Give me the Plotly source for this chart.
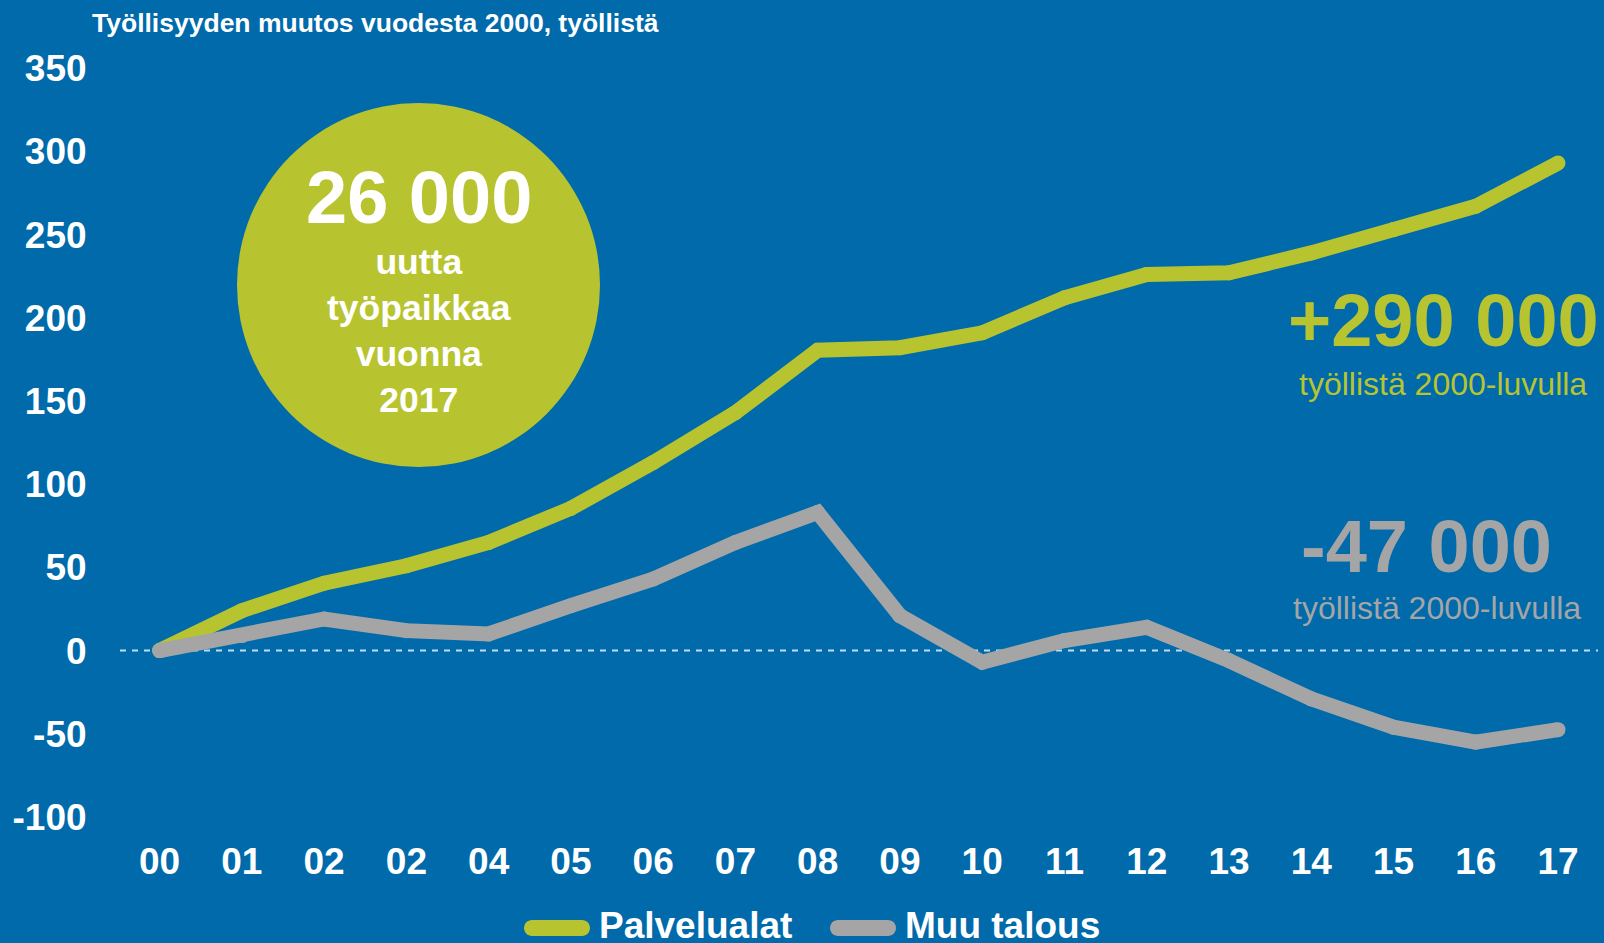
import plotly.graph_objects as go

years = ["00", "01", "02", "02", "04", "05", "06", "07", "08", "09",
         "10", "11", "12", "13", "14", "15", "16", "17"]
palvelualat = [0, 24, 40.5, 51, 65, 85.5, 113, 143, 180.5, 182, 191, 212,
               226, 227, 239, 253, 267, 293]
muu_talous = [0, 9, 19, 12, 10, 27, 43, 65, 83, 21, -7, 6, 14, -6, -29,
              -46, -55, -47.5]
yticks = [350, 300, 250, 200, 150, 100, 50, 0, -50, -100]

BG = "#006AAB"
GREEN = "#B8C42F"
GRAY = "#A5A5A5"
FONT = "Liberation Sans, Arial, sans-serif"

xs = list(range(len(years)))

fig = go.Figure()
fig.add_trace(go.Scatter(x=xs, y=palvelualat, mode="lines+markers", name="Palvelualat",
                         line=dict(color=GREEN, width=15),
                         marker=dict(color=GREEN, size=15, line=dict(width=0)),
                         showlegend=False, hoverinfo="skip"))
fig.add_trace(go.Scatter(x=xs, y=muu_talous, mode="lines+markers", name="Muu talous",
                         line=dict(color=GRAY, width=15),
                         marker=dict(color=GRAY, size=15, line=dict(width=0)),
                         showlegend=False, hoverinfo="skip"))

L, R, T, B = 120, 6, 40, 118
W, H = 1604, 943
pw, ph = W - L - R, H - T - B

def px(x):
    return (x - L) / pw

def py(y):
    return (H - B - y) / ph

shapes = []
shapes.append(dict(type="line", xref="paper", yref="y", x0=0, x1=1, y0=0, y1=0,
                   line=dict(color="#BFDDF0", width=2, dash="6px,6px"), layer="below"))
shapes.append(dict(type="circle", xref="paper", yref="paper",
                   x0=px(237), x1=px(600), y0=py(467), y1=py(103),
                   fillcolor=GREEN, line=dict(width=0), layer="below"))

def stadium(cx, cy, color):
    p = ("M -25,-8 L 25,-8 C 29.4,-8 33,-4.4 33,0 C 33,4.4 29.4,8 25,8 "
         "L -25,8 C -29.4,8 -33,4.4 -33,0 C -33,-4.4 -29.4,-8 -25,-8 Z")
    return dict(type="path", xref="paper", yref="paper", xsizemode="pixel",
                ysizemode="pixel", xanchor=px(cx), yanchor=py(cy), path=p,
                fillcolor=color, line=dict(width=0))

shapes.append(stadium(557, 928, GREEN))
shapes.append(stadium(863, 928, GRAY))

annotations = [
    dict(text="Työllisyyden muutos vuodesta 2000, työllistä", xref="paper", yref="paper",
         x=px(90), y=py(23), xanchor="left", yanchor="middle", showarrow=False,
         font=dict(family=FONT, size=26.5, color="white", weight="bold")),
    dict(text="<b>26 000</b>", xref="paper", yref="paper", x=px(419), y=py(198),
         xanchor="center", yanchor="middle", showarrow=False,
         font=dict(family=FONT, size=74, color="white")),
    dict(text="<b>uutta<br>työpaikkaa<br>vuonna<br>2017</b>", xref="paper", yref="paper",
         x=px(419), y=py(331), xanchor="center", yanchor="middle", showarrow=False,
         font=dict(family=FONT, size=35.5, color="white")),
    dict(text="<b>+290 000</b>", xref="paper", yref="paper", x=px(1443), y=py(320),
         xanchor="center", yanchor="middle", showarrow=False,
         font=dict(family=FONT, size=74, color=GREEN)),
    dict(text="työllistä 2000-luvulla", xref="paper", yref="paper", x=px(1443), y=py(384),
         xanchor="center", yanchor="middle", showarrow=False,
         font=dict(family=FONT, size=32, color=GREEN)),
    dict(text="<b>-47 000</b>", xref="paper", yref="paper", x=px(1426), y=py(546),
         xanchor="center", yanchor="middle", showarrow=False,
         font=dict(family=FONT, size=74, color=GRAY)),
    dict(text="työllistä 2000-luvulla", xref="paper", yref="paper", x=px(1437), y=py(608),
         xanchor="center", yanchor="middle", showarrow=False,
         font=dict(family=FONT, size=32, color=GRAY)),
    dict(text="<b>Palvelualat</b>", xref="paper", yref="paper", x=px(597), y=py(925),
         xanchor="left", yanchor="middle", showarrow=False,
         font=dict(family=FONT, size=37, color="white")),
    dict(text="<b>Muu talous</b>", xref="paper", yref="paper", x=px(903), y=py(925),
         xanchor="left", yanchor="middle", showarrow=False,
         font=dict(family=FONT, size=37, color="white")),
]

step = 82.26
fig.update_layout(
    width=W, height=H,
    paper_bgcolor=BG, plot_bgcolor=BG,
    margin=dict(l=L, r=R, t=T, b=B),
    showlegend=False,
    shapes=shapes,
    annotations=annotations,
    xaxis=dict(range=[-(159.6 - L) / step, 17 + (L + pw - 1558) / step],
               tickmode="array", tickvals=xs, ticktext=years,
               showgrid=False, zeroline=False, showline=False,
               ticks="outside", ticklen=4, tickcolor="rgba(0,0,0,0)",
               tickfont=dict(family=FONT, size=37, color="white", weight="bold")),
    yaxis=dict(range=[-(H - B - 650.6) / 1.664, (650.6 - T) / 1.664],
               tickmode="array", tickvals=yticks, ticktext=[str(v) for v in yticks],
               showgrid=False, zeroline=False, showline=False,
               ticks="outside", ticklen=25, tickcolor="rgba(0,0,0,0)",
               tickfont=dict(family=FONT, size=37, color="white", weight="bold")),
)

fig.write_html("out.html", config={"displayModeBar": False},
               post_script="document.body.style.margin='0';"
                           "document.body.style.background='#006AAB';")
